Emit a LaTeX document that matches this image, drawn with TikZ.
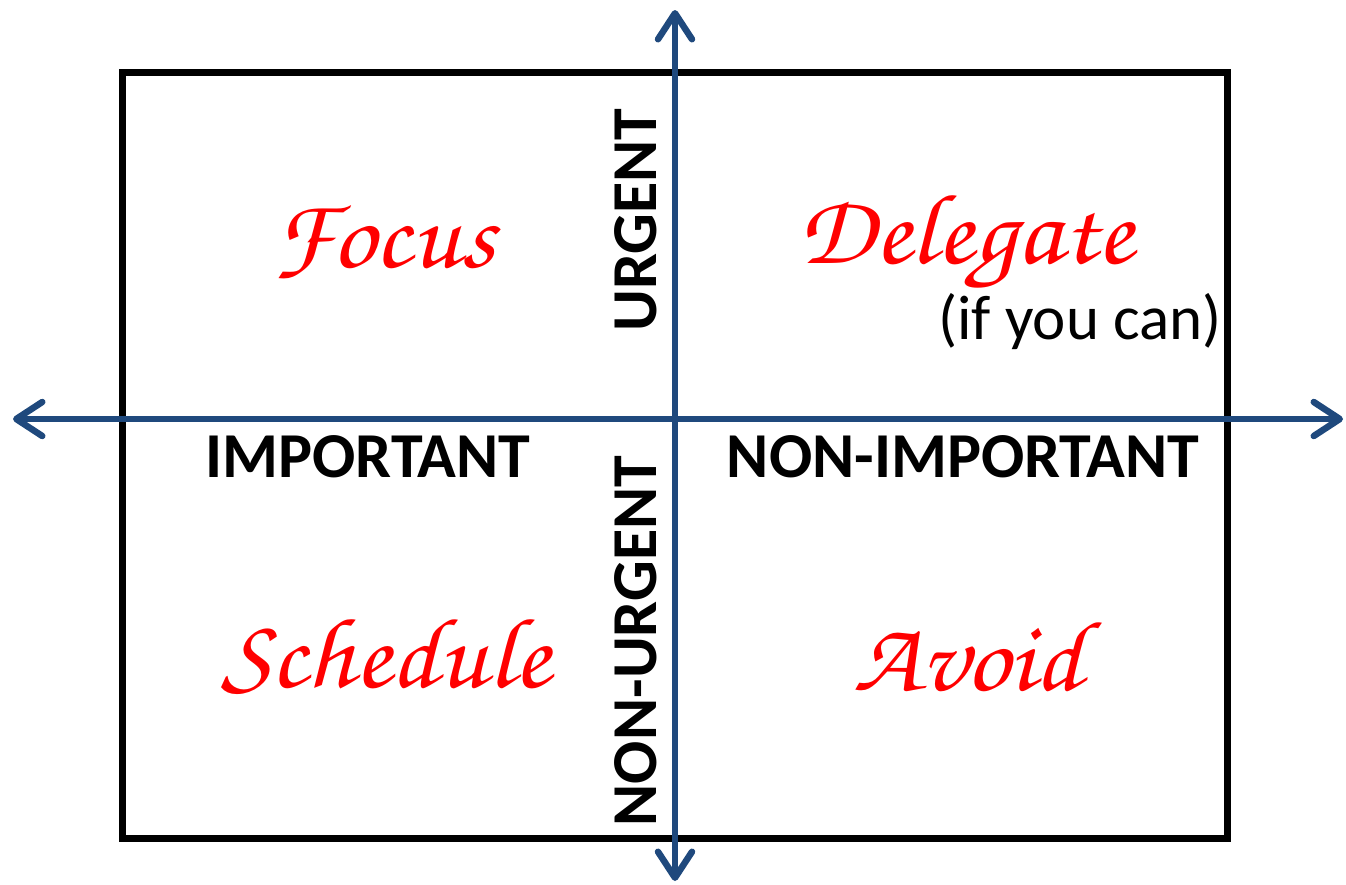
\documentclass[tikz,border=0pt]{standalone}
\usepackage{fontspec}
\setmainfont{Carlito}
\newfontfamily\scriptf{TeX Gyre Chorus}
\usetikzlibrary{arrows.meta}
\definecolor{axisblue}{RGB}{31,73,125}
\definecolor{labelred}{RGB}{255,0,0}
\tikzset{
  frame/.style={line width=7pt, draw=black},
  axis/.style={line width=6.5pt, draw=axisblue, {Straight Barb[length=26pt,width=34pt,round]}-{Straight Barb[length=26pt,width=34pt,round]}},
  quad/.style={text=labelred, font=\scriptf\fontsize{100}{110}\selectfont, inner sep=0pt, xscale=1.08},
  axlabel/.style={font=\bfseries\fontsize{64}{70}\selectfont, inner sep=0pt},
  note/.style={font=\fontsize{63}{70}\selectfont, inner sep=0pt}
}
\begin{document}
\begin{tikzpicture}[x=1pt,y=-1pt]
\useasboundingbox (0,0) rectangle (1346,884);
\draw[frame] (122,72) rectangle (1227,838);
\coordinate (top) at (675,10);
\coordinate (bottom) at (675,881);
\coordinate (left) at (13,419);
\coordinate (right) at (1343,419);
\draw[axis] (left) -- (right);
\draw[axis] (bottom) -- (top);
\node[quad] (focus) at (384,242) {Focus};
\node[quad] (delegate) at (966,242) {Delegate};
\node[note] (ifcan) at (1080,322) {(if you can)};
\node[quad] (schedule) at (386,657) {Schedule};
\node[quad] (avoid) at (968,657) {Avoid};
\node[axlabel] (important) at (368,457) {IMPORTANT};
\node[axlabel] (nonimportant) at (963,457) {NON-IMPORTANT};
\node[axlabel, rotate=90] (urgent) at (636,220) {URGENT};
\node[axlabel, rotate=90] (nonurgent) at (636,641) {NON-URGENT};
\end{tikzpicture}
\end{document}
